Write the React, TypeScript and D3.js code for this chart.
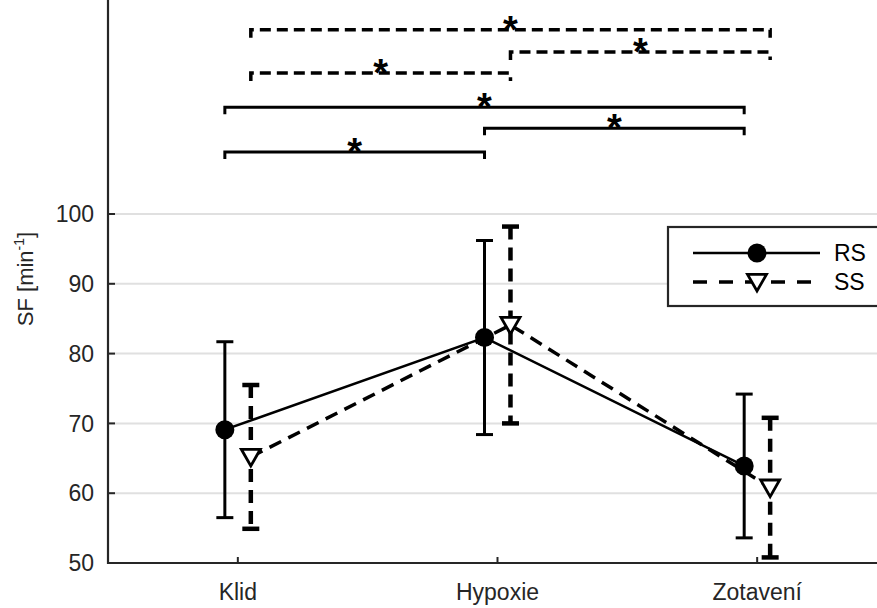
import React from "react";
import * as d3 from "d3";

const categories = ["Klid", "Hypoxie", "Zotavení"];
const rsMean = [69.1, 82.3, 63.9];
const rsSd = [12.6, 13.9, 10.3];
const ssMean = [65.2, 84.1, 60.8];
const ssSd = [10.3, 14.1, 10.0];
const yTicks = [50, 60, 70, 80, 90, 100];
// significance brackets: [from index, to index, level (y units), series]
const bracketFrom = [0, 1, 0, 0, 1, 0];
const bracketTo = [1, 2, 2, 1, 2, 2];
const bracketLevel = [108.9, 112.3, 115.3, 120.2, 123.2, 126.4];
const bracketSeries = ["RS", "RS", "RS", "SS", "SS", "SS"];
const seriesNames = ["RS", "SS"];

const W = 877;
const H = 608;
const INK = "#262626";
const FONT = "'Liberation Sans', Arial, Helvetica, sans-serif";

export default function App() {
  const x = d3.scaleLinear().domain([0.5, 3.5]).range([108, 887]);
  const y = d3.scaleLinear().domain([50, 100]).range([563, 214]);
  const off = 0.05;
  const rsX = (i: number) => x(i + 1 - off);
  const ssX = (i: number) => x(i + 1 + off);
  const line = d3
    .line<[number, number]>()
    .x((d) => d[0])
    .y((d) => d[1]);
  const rsPts: [number, number][] = rsMean.map((m, i) => [rsX(i), y(m)]);
  const ssPts: [number, number][] = ssMean.map((m, i) => [ssX(i), y(m)]);
  const tri = (cx: number, cy: number, s = 9.5) =>
    `M${cx - s},${cy - s * 0.8}L${cx + s},${cy - s * 0.8}L${cx},${cy + s * 0.95}Z`;
  const capW = 8.5;

  return (
    <svg
      width={W}
      height={H}
      style={{ position: "absolute", left: 0, top: 0, background: "#fff" }}
      fontFamily={FONT}
    >
      <rect x={0} y={0} width={W} height={H} fill="#fff" />
      {/* grid */}
      {yTicks.filter((t) => t > 50).map((t) => (
        <line key={t} x1={108} x2={W} y1={y(t)} y2={y(t)} stroke="#e0e0e0" strokeWidth={2} />
      ))}
      {/* axes */}
      <line x1={108} x2={108} y1={0} y2={564} stroke={INK} strokeWidth={2.2} />
      <line x1={107} x2={W} y1={563} y2={563} stroke={INK} strokeWidth={2.2} />
      {yTicks.map((t) => (
        <g key={t}>
          {t > 50 && <line x1={108} x2={115} y1={y(t)} y2={y(t)} stroke={INK} strokeWidth={2} />}
          <text x={94} y={y(t)} dy="0.36em" textAnchor="end" fontSize={23} fill={INK}>
            {t}
          </text>
        </g>
      ))}
      {categories.map((c, i) => (
        <g key={c}>
          <line x1={x(i + 1)} x2={x(i + 1)} y1={563} y2={557} stroke={INK} strokeWidth={2} />
          <text x={x(i + 1)} y={600} textAnchor="middle" fontSize={23} fill={INK}>
            {c}
          </text>
        </g>
      ))}
      <text
        transform={`translate(33,279) rotate(-90)`}
        textAnchor="middle"
        fontSize={22}
        fill={INK}
      >
        SF [min<tspan dy={-9} fontSize={14}>-1</tspan>
        <tspan dy={9}>]</tspan>
      </text>

      {/* series lines */}
      <path d={line(ssPts) || ""} fill="none" stroke="#000" strokeWidth={3.5} strokeDasharray="13,8" />
      <path d={line(rsPts) || ""} fill="none" stroke="#000" strokeWidth={2.5} />

      {/* error bars RS */}
      {rsMean.map((m, i) => {
        const cx = rsX(i);
        const t = y(m + rsSd[i]);
        const b = y(m - rsSd[i]);
        return (
          <g key={"rse" + i} stroke="#000" strokeWidth={3}>
            <line x1={cx} x2={cx} y1={t} y2={b} />
            <line x1={cx - capW} x2={cx + capW} y1={t} y2={t} />
            <line x1={cx - capW} x2={cx + capW} y1={b} y2={b} />
          </g>
        );
      })}
      {/* error bars SS */}
      {ssMean.map((m, i) => {
        const cx = ssX(i);
        const t = y(m + ssSd[i]);
        const b = y(m - ssSd[i]);
        return (
          <g key={"sse" + i} stroke="#000" strokeWidth={4.5}>
            <line x1={cx} x2={cx} y1={t} y2={b} strokeDasharray="13,8" />
            <line x1={cx - capW} x2={cx + capW} y1={t} y2={t} />
            <line x1={cx - capW} x2={cx + capW} y1={b} y2={b} />
          </g>
        );
      })}
      {/* markers */}
      {rsPts.map((p, i) => (
        <circle key={"rm" + i} cx={p[0]} cy={p[1]} r={9.5} fill="#000" />
      ))}
      {ssPts.map((p, i) => (
        <path key={"sm" + i} d={tri(p[0], p[1])} fill="#fff" stroke="#000" strokeWidth={2.8} strokeLinejoin="miter" />
      ))}

      {/* significance brackets */}
      {bracketLevel.map((lv, k) => {
        const isRS = bracketSeries[k] === "RS";
        const xf = isRS ? rsX(bracketFrom[k]) : ssX(bracketFrom[k]);
        const xt = isRS ? rsX(bracketTo[k]) : ssX(bracketTo[k]);
        const yy = y(lv);
        const tick = isRS ? 7 : 8;
        return (
          <g key={"br" + k}>
            <path
              d={`M${xf},${yy + tick}V${yy}H${xt}V${yy + tick}`}
              fill="none"
              stroke="#000"
              strokeWidth={isRS ? 3 : 3.5}
              strokeDasharray={isRS ? undefined : "11,6"}
            />
            <text x={(xf + xt) / 2} y={yy + 13} textAnchor="middle" fontSize={38} fontWeight="bold" fill="#000">
              *
            </text>
          </g>
        );
      })}

      {/* legend */}
      <rect x={668} y={227} width={260} height={79} fill="#fff" stroke={INK} strokeWidth={2.2} />
      {seriesNames.map((s, i) => {
        const ly = 253 + i * 29;
        return (
          <g key={"lg" + s}>
            <line
              x1={693}
              x2={820}
              y1={ly}
              y2={ly}
              stroke="#000"
              strokeWidth={s === "RS" ? 2.5 : 3.5}
              strokeDasharray={s === "RS" ? undefined : "14,12"}
            />
            {s === "RS" ? (
              <circle cx={757} cy={ly} r={9.5} fill="#000" />
            ) : (
              <path d={tri(757, ly)} fill="#fff" stroke="#000" strokeWidth={2.8} />
            )}
            <text x={834} y={ly} dy="0.36em" fontSize={23} fill="#000">
              {s}
            </text>
          </g>
        );
      })}
    </svg>
  );
}
